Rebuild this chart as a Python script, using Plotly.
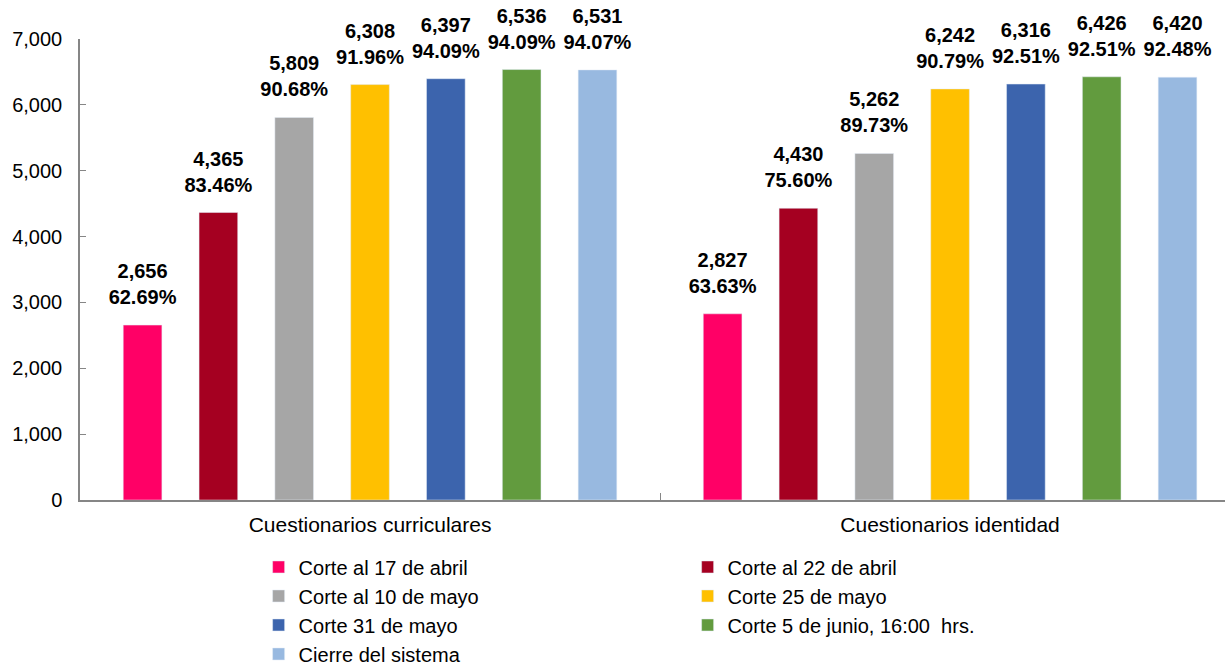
import plotly.graph_objects as go

categorias = ["Cuestionarios curriculares", "Cuestionarios identidad"]

series = [
    "Corte al 17 de abril",
    "Corte al 22 de abril",
    "Corte al 10 de mayo",
    "Corte 25 de mayo",
    "Corte 31 de mayo",
    "Corte 5 de junio, 16:00  hrs.",
    "Cierre del sistema",
]

colores = ["#FF0066", "#A50021", "#A6A6A6", "#FFC000", "#3C64AD", "#629B3E", "#98B9E0"]

# valores por serie: [curriculares, identidad]
valores = [
    [2656, 2827],
    [4365, 4430],
    [5809, 5262],
    [6308, 6242],
    [6397, 6316],
    [6536, 6426],
    [6531, 6420],
]

porcentajes = [
    ["62.69%", "63.63%"],
    ["83.46%", "75.60%"],
    ["90.68%", "89.73%"],
    ["91.96%", "90.79%"],
    ["94.09%", "92.51%"],
    ["94.09%", "92.51%"],
    ["94.07%", "92.48%"],
]

FUENTE = "Arial, Liberation Sans, sans-serif"

fig = go.Figure()
for i, (nombre, color, vals) in enumerate(zip(series, colores, valores)):
    fig.add_trace(go.Bar(
        name=nombre,
        x=categorias,
        y=vals,
        marker_color=color,
        offsetgroup=str(i),
        hoverinfo="skip",
    ))

# etiquetas como texto de scatter agrupado, marcador invisible para separarlas de la barra
for i, (vals, pcts) in enumerate(zip(valores, porcentajes)):
    etiquetas = [f"{v:,}<br>{p}" for v, p in zip(vals, pcts)]
    fig.add_trace(go.Scatter(
        x=categorias,
        y=vals,
        mode="markers+text",
        marker=dict(size=24, opacity=0),
        text=etiquetas,
        textposition="top center",
        textfont=dict(family=FUENTE, size=20, color="black", weight="bold"),
        offsetgroup=str(i),
        cliponaxis=False,
        showlegend=False,
        hoverinfo="skip",
    ))

fig.update_layout(
    width=1225,
    height=667,
    barmode="group",
    bargap=0.085,
    bargroupgap=0.49,
    scattermode="group",
    scattergap=0.085,
    plot_bgcolor="white",
    paper_bgcolor="white",
    font=dict(family=FUENTE, size=20, color="black"),
    margin=dict(l=80, r=0, t=39, b=167, autoexpand=False),
    legend=dict(
        orientation="h",
        x=0.156,
        xanchor="left",
        y=-0.103,
        yanchor="top",
        entrywidth=384,
        itemwidth=30,
        font=dict(size=20),
        traceorder="normal",
    ),
)

fig.update_xaxes(
    range=[-0.5, 1.474],
    showline=True,
    linecolor="#868686",
    linewidth=1.5,
    ticks="inside",
    tickson="boundaries",
    ticklen=7,
    tickcolor="#868686",
    showgrid=False,
    tickfont=dict(size=21),
    ticklabelstandoff=5,
    automargin=False,
)

fig.update_yaxes(
    range=[0, 7000],
    dtick=1000,
    tickformat=",",
    showline=True,
    linecolor="#868686",
    linewidth=1.5,
    ticks="inside",
    ticklen=6,
    tickcolor="#868686",
    showgrid=False,
    zeroline=False,
    tickfont=dict(size=20),
    ticklabelstandoff=12,
    automargin=False,
)

fig.write_html(
    "out.html",
    config={"displayModeBar": False},
    post_script="document.body.style.margin = '0';",
)
